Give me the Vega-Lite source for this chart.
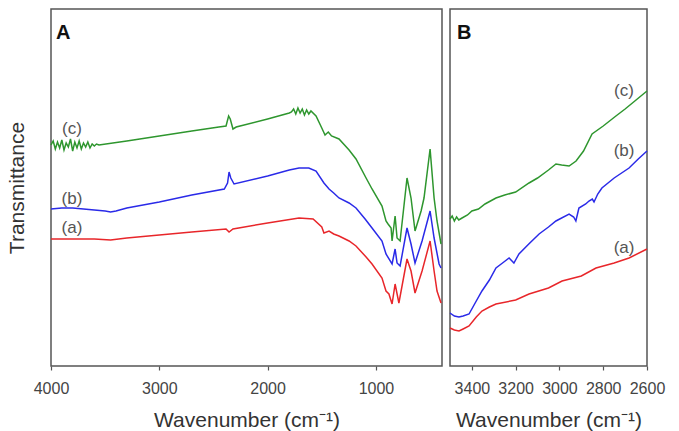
{
  "$schema": "https://vega.github.io/schema/vega-lite/v6.json",
  "padding": {"left": 5, "top": 8, "right": 5, "bottom": 0},
  "background": "white",
  "spacing": 1,
  "config": {
    "font": "Liberation Sans",
    "view": {"stroke": "#555", "strokeWidth": 1.5},
    "axis": {
      "grid": false, "domain": false, "tickColor": "#555", "tickSize": 4, "tickWidth": 1.2,
      "labelColor": "#444", "labelFontSize": 16, "labelFont": "Liberation Sans", "labelPadding": 10,
      "labelFlush": false, "labelOverlap": false, "format": "d",
      "titleColor": "#333", "titleFontSize": 21, "titleFont": "Liberation Sans", "titleFontWeight": "normal"
    }
  },
  "datasets": {
    "A": [
      {"s":"c","wn":4000,"v":221},{"s":"c","wn":3980,"v":225},{"s":"c","wn":3960,"v":217},{"s":"c","wn":3940,"v":224},{"s":"c","wn":3920,"v":218},{"s":"c","wn":3900,"v":226},{"s":"c","wn":3880,"v":216},{"s":"c","wn":3860,"v":223},{"s":"c","wn":3840,"v":219},{"s":"c","wn":3820,"v":227},{"s":"c","wn":3800,"v":215},{"s":"c","wn":3780,"v":224},{"s":"c","wn":3760,"v":218},{"s":"c","wn":3740,"v":225},{"s":"c","wn":3720,"v":217},{"s":"c","wn":3700,"v":223},{"s":"c","wn":3680,"v":219},{"s":"c","wn":3660,"v":224},{"s":"c","wn":3640,"v":218},{"s":"c","wn":3620,"v":222},{"s":"c","wn":3600,"v":220},{"s":"c","wn":3580,"v":222},{"s":"c","wn":3557,"v":221},{"s":"c","wn":3300,"v":225},{"s":"c","wn":3000,"v":230},{"s":"c","wn":2700,"v":235},{"s":"c","wn":2450,"v":239},{"s":"c","wn":2384,"v":240},{"s":"c","wn":2360,"v":250},{"s":"c","wn":2345,"v":247},{"s":"c","wn":2320,"v":237},{"s":"c","wn":2290,"v":239},{"s":"c","wn":2000,"v":247},{"s":"c","wn":1800,"v":253},{"s":"c","wn":1780,"v":254},{"s":"c","wn":1760,"v":257},{"s":"c","wn":1740,"v":252},{"s":"c","wn":1720,"v":258},{"s":"c","wn":1700,"v":253},{"s":"c","wn":1680,"v":257},{"s":"c","wn":1660,"v":251},{"s":"c","wn":1640,"v":256},{"s":"c","wn":1620,"v":252},{"s":"c","wn":1600,"v":255},{"s":"c","wn":1553,"v":250},{"s":"c","wn":1500,"v":238},{"s":"c","wn":1470,"v":231},{"s":"c","wn":1440,"v":234},{"s":"c","wn":1410,"v":230},{"s":"c","wn":1341,"v":227},{"s":"c","wn":1248,"v":216},{"s":"c","wn":1184,"v":207},{"s":"c","wn":1091,"v":188},{"s":"c","wn":1036,"v":177},{"s":"c","wn":944,"v":160},{"s":"c","wn":907,"v":145},{"s":"c","wn":888,"v":142},{"s":"c","wn":860,"v":138},{"s":"c","wn":851,"v":125},{"s":"c","wn":823,"v":150},{"s":"c","wn":805,"v":128},{"s":"c","wn":777,"v":125},{"s":"c","wn":713,"v":188},{"s":"c","wn":676,"v":168},{"s":"c","wn":639,"v":135},{"s":"c","wn":583,"v":155},{"s":"c","wn":556,"v":168},{"s":"c","wn":500,"v":217},{"s":"c","wn":463,"v":168},{"s":"c","wn":436,"v":145},{"s":"c","wn":399,"v":122},
      {"s":"b","wn":4000,"v":157},{"s":"b","wn":3900,"v":158},{"s":"b","wn":3800,"v":158},{"s":"b","wn":3700,"v":157},{"s":"b","wn":3600,"v":156},{"s":"b","wn":3500,"v":155},{"s":"b","wn":3450,"v":154},{"s":"b","wn":3400,"v":155},{"s":"b","wn":3300,"v":158},{"s":"b","wn":3000,"v":164},{"s":"b","wn":2700,"v":171},{"s":"b","wn":2400,"v":177},{"s":"b","wn":2370,"v":183},{"s":"b","wn":2356,"v":194},{"s":"b","wn":2340,"v":188},{"s":"b","wn":2310,"v":182},{"s":"b","wn":2000,"v":190},{"s":"b","wn":1800,"v":196},{"s":"b","wn":1710,"v":198},{"s":"b","wn":1620,"v":198},{"s":"b","wn":1553,"v":195},{"s":"b","wn":1480,"v":183},{"s":"b","wn":1433,"v":177},{"s":"b","wn":1390,"v":173},{"s":"b","wn":1341,"v":168},{"s":"b","wn":1248,"v":163},{"s":"b","wn":1184,"v":158},{"s":"b","wn":1100,"v":147},{"s":"b","wn":1036,"v":138},{"s":"b","wn":944,"v":125},{"s":"b","wn":907,"v":112},{"s":"b","wn":851,"v":102},{"s":"b","wn":823,"v":117},{"s":"b","wn":805,"v":103},{"s":"b","wn":777,"v":100},{"s":"b","wn":713,"v":138},{"s":"b","wn":676,"v":122},{"s":"b","wn":639,"v":103},{"s":"b","wn":574,"v":125},{"s":"b","wn":500,"v":155},{"s":"b","wn":463,"v":128},{"s":"b","wn":417,"v":102},{"s":"b","wn":399,"v":98},
      {"s":"a","wn":4000,"v":127},{"s":"a","wn":3800,"v":127},{"s":"a","wn":3600,"v":127},{"s":"a","wn":3450,"v":126},{"s":"a","wn":3300,"v":128},{"s":"a","wn":3000,"v":131},{"s":"a","wn":2700,"v":134},{"s":"a","wn":2384,"v":137},{"s":"a","wn":2356,"v":134},{"s":"a","wn":2320,"v":137},{"s":"a","wn":2000,"v":143},{"s":"a","wn":1710,"v":148},{"s":"a","wn":1580,"v":147},{"s":"a","wn":1500,"v":139},{"s":"a","wn":1480,"v":133},{"s":"a","wn":1433,"v":135},{"s":"a","wn":1390,"v":132},{"s":"a","wn":1341,"v":130},{"s":"a","wn":1248,"v":125},{"s":"a","wn":1184,"v":120},{"s":"a","wn":1091,"v":109},{"s":"a","wn":1036,"v":102},{"s":"a","wn":944,"v":88},{"s":"a","wn":907,"v":75},{"s":"a","wn":880,"v":72},{"s":"a","wn":851,"v":62},{"s":"a","wn":823,"v":82},{"s":"a","wn":788,"v":63},{"s":"a","wn":713,"v":107},{"s":"a","wn":676,"v":95},{"s":"a","wn":639,"v":73},{"s":"a","wn":574,"v":95},{"s":"a","wn":500,"v":125},{"s":"a","wn":463,"v":95},{"s":"a","wn":436,"v":75},{"s":"a","wn":399,"v":63}
    ],
    "B": [
      {"s":"c","wn":3500,"v":147},{"s":"c","wn":3490,"v":150},{"s":"c","wn":3480,"v":145},{"s":"c","wn":3470,"v":149},{"s":"c","wn":3460,"v":146},{"s":"c","wn":3445,"v":148},{"s":"c","wn":3420,"v":151},{"s":"c","wn":3400,"v":155},{"s":"c","wn":3370,"v":157},{"s":"c","wn":3340,"v":162},{"s":"c","wn":3290,"v":168},{"s":"c","wn":3250,"v":171},{"s":"c","wn":3200,"v":174},{"s":"c","wn":3139,"v":183},{"s":"c","wn":3100,"v":188},{"s":"c","wn":3050,"v":196},{"s":"c","wn":3016,"v":202},{"s":"c","wn":2990,"v":201},{"s":"c","wn":2956,"v":200},{"s":"c","wn":2924,"v":205},{"s":"c","wn":2890,"v":215},{"s":"c","wn":2851,"v":232},{"s":"c","wn":2800,"v":240},{"s":"c","wn":2742,"v":250},{"s":"c","wn":2700,"v":257},{"s":"c","wn":2650,"v":266},{"s":"c","wn":2600,"v":275},
      {"s":"b","wn":3500,"v":53},{"s":"b","wn":3480,"v":50},{"s":"b","wn":3459,"v":49},{"s":"b","wn":3440,"v":50},{"s":"b","wn":3413,"v":52},{"s":"b","wn":3380,"v":65},{"s":"b","wn":3354,"v":75},{"s":"b","wn":3320,"v":86},{"s":"b","wn":3290,"v":98},{"s":"b","wn":3260,"v":103},{"s":"b","wn":3230,"v":108},{"s":"b","wn":3208,"v":103},{"s":"b","wn":3185,"v":112},{"s":"b","wn":3140,"v":122},{"s":"b","wn":3093,"v":132},{"s":"b","wn":3050,"v":139},{"s":"b","wn":3016,"v":145},{"s":"b","wn":2956,"v":152},{"s":"b","wn":2935,"v":149},{"s":"b","wn":2925,"v":145},{"s":"b","wn":2911,"v":158},{"s":"b","wn":2880,"v":162},{"s":"b","wn":2865,"v":165},{"s":"b","wn":2850,"v":167},{"s":"b","wn":2842,"v":164},{"s":"b","wn":2825,"v":172},{"s":"b","wn":2806,"v":178},{"s":"b","wn":2750,"v":188},{"s":"b","wn":2682,"v":198},{"s":"b","wn":2640,"v":207},{"s":"b","wn":2600,"v":215},
      {"s":"a","wn":3500,"v":38},{"s":"a","wn":3480,"v":36},{"s":"a","wn":3459,"v":35},{"s":"a","wn":3440,"v":37},{"s":"a","wn":3413,"v":40},{"s":"a","wn":3380,"v":49},{"s":"a","wn":3354,"v":55},{"s":"a","wn":3320,"v":59},{"s":"a","wn":3290,"v":62},{"s":"a","wn":3200,"v":66},{"s":"a","wn":3139,"v":72},{"s":"a","wn":3050,"v":78},{"s":"a","wn":2988,"v":85},{"s":"a","wn":2900,"v":90},{"s":"a","wn":2833,"v":98},{"s":"a","wn":2750,"v":103},{"s":"a","wn":2682,"v":108},{"s":"a","wn":2600,"v":117}
    ],
    "labA": [
      {"wn":3806,"v":237,"t":"(c)"},{"wn":3806,"v":167,"t":"(b)"},{"wn":3806,"v":138,"t":"(a)"}
    ],
    "labB": [
      {"wn":2705,"v":275,"t":"(c)"},{"wn":2705,"v":215,"t":"(b)"},{"wn":2705,"v":118,"t":"(a)"}
    ],
    "panA": [{"wn":3954,"v":327,"t":"A"}],
    "panB": [{"wn":3468,"v":327,"t":"B"}]
  },
  "hconcat": [
    {
      "width": 391, "height": 357,
      "encoding": {
        "x": {"field": "wn", "type": "quantitative",
              "scale": {"domain": [390, 4000], "reverse": true, "nice": false, "zero": false},
              "axis": {"values": [4000, 3000, 2000, 1000], "title": "Wavenumber (cm⁻¹)", "titlePadding": 13}},
        "y": {"field": "v", "type": "quantitative",
              "scale": {"domain": [0, 357], "nice": false, "zero": false},
              "axis": {"title": "Transmittance", "labels": false, "ticks": false, "titlePadding": 24}}
      },
      "layer": [
        {"data": {"name": "A"}, "mark": {"type": "line", "strokeWidth": 1.5},
         "encoding": {"color": {"field": "s", "type": "nominal", "legend": null,
           "scale": {"domain": ["a", "b", "c"], "range": ["#e8262a", "#2a2ae8", "#2e962e"]}}}},
        {"data": {"name": "labA"}, "mark": {"type": "text", "fontSize": 17, "color": "#555", "align": "center", "baseline": "middle"},
         "encoding": {"text": {"field": "t"}}},
        {"data": {"name": "panA"}, "mark": {"type": "text", "fontSize": 20, "fontWeight": "bold", "color": "#111", "align": "left", "baseline": "alphabetic"},
         "encoding": {"text": {"field": "t"}}}
      ]
    },
    {
      "width": 197, "height": 357,
      "encoding": {
        "x": {"field": "wn", "type": "quantitative",
              "scale": {"domain": [2600, 3500], "reverse": true, "nice": false, "zero": false},
              "axis": {"values": [3400, 3200, 3000, 2800, 2600], "title": "Wavenumber (cm⁻¹)", "titlePadding": 13}},
        "y": {"field": "v", "type": "quantitative",
              "scale": {"domain": [0, 357], "nice": false, "zero": false},
              "axis": null}
      },
      "layer": [
        {"data": {"name": "B"}, "mark": {"type": "line", "strokeWidth": 1.5},
         "encoding": {"color": {"field": "s", "type": "nominal", "legend": null,
           "scale": {"domain": ["a", "b", "c"], "range": ["#e8262a", "#2a2ae8", "#2e962e"]}}}},
        {"data": {"name": "labB"}, "mark": {"type": "text", "fontSize": 17, "color": "#555", "align": "center", "baseline": "middle"},
         "encoding": {"text": {"field": "t"}}},
        {"data": {"name": "panB"}, "mark": {"type": "text", "fontSize": 20, "fontWeight": "bold", "color": "#111", "align": "left", "baseline": "alphabetic"},
         "encoding": {"text": {"field": "t"}}}
      ]
    }
  ]
}
